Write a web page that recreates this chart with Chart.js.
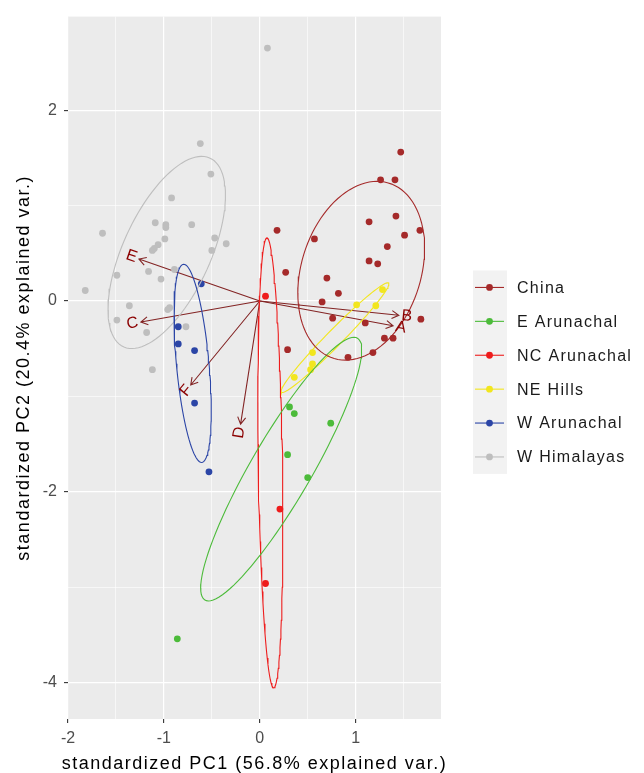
<!DOCTYPE html>
<html>
<head>
<meta charset="utf-8">
<script src="https://cdn.jsdelivr.net/npm/chart.js@4/dist/chart.umd.min.js"></script>
<style>
  body { margin: 0; background: #fff; }
  #wrap { width: 644px; height: 773px; }
</style>
</head>
<body>
<div id="wrap"><canvas id="myChart"></canvas></div>
<script>
// groups and colours
const groups = ['China', 'E Arunachal', 'NC Arunachal', 'NE Hills', 'W Arunachal', 'W Himalayas'];
const groupColors = ['#A52A2A', '#4CBB3A', '#EE1C1C', '#F2E61E', '#2B45A6', '#BEBEBE'];

// PC scores
const chinaPC1 = [1.47, 1.26, 1.41, 1.42, 1.14, 1.51, 1.67, 0.18, 0.57, 1.33, 1.14, 1.23, 0.27, 0.70, 0.82, 0.65, 0.76, 1.10, 1.68, 1.30, 1.39, 0.29, 0.92, 1.18];
const chinaPC2 = [1.56, 1.27, 1.27, 0.89, 0.83, 0.69, 0.74, 0.74, 0.65, 0.57, 0.42, 0.39, 0.30, 0.24, 0.08, -0.01, -0.18, -0.23, -0.19, -0.39, -0.39, -0.51, -0.59, -0.54];
const eArunPC1 = [0.31, 0.36, 0.74, 0.29, 0.50, -0.86];
const eArunPC2 = [-1.11, -1.18, -1.28, -1.61, -1.85, -3.54];
const ncArunPC1 = [0.06, 0.21, 0.06];
const ncArunPC2 = [0.05, -2.18, -2.96];
const neHillsPC1 = [1.28, 1.01, 1.21, 0.55, 0.55, 0.53, 0.36];
const neHillsPC2 = [0.12, -0.04, -0.05, -0.54, -0.66, -0.72, -0.80];
const wArunPC1 = [-0.61, -0.85, -0.85, -0.68, -0.68, -0.53];
const wArunPC2 = [0.18, -0.27, -0.45, -0.52, -1.07, -1.79];
const wHimPC1 = [0.08, -0.62, -0.51, -0.92, -1.09, -0.98, -0.98, -0.71, -1.64, -0.99, -0.47, -0.35, -1.06, -1.10, -1.12, -0.50, -1.49, -1.16, -1.03, -0.89, -1.82, -1.36, -0.94, -0.96, -1.49, -1.18, -0.77, -1.12];
const wHimPC2 = [2.65, 1.65, 1.33, 1.08, 0.82, 0.80, 0.77, 0.80, 0.71, 0.65, 0.66, 0.60, 0.59, 0.55, 0.53, 0.53, 0.27, 0.31, 0.23, 0.33, 0.11, -0.05, -0.07, -0.09, -0.20, -0.33, -0.27, -0.72];

// variable loadings (arrows)
const varNames = ['A', 'B', 'C', 'D', 'E', 'F'];
const varPC1 = [1.39, 1.45, -1.24, -0.20, -1.26, -0.72];
const varPC2 = [-0.26, -0.15, -0.22, -1.29, 0.44, -0.88];

const xTicks = [-2, -1, 0, 1];
const yTicks = [-4, -2, 0, 2];

const groupPC1 = [chinaPC1, eArunPC1, ncArunPC1, neHillsPC1, wArunPC1, wHimPC1];
const groupPC2 = [chinaPC2, eArunPC2, ncArunPC2, neHillsPC2, wArunPC2, wHimPC2];

const FONT = "'Liberation Sans', Arial, sans-serif";

// normal-probability ellipse as in ggbiplot (68%)
function ellipse(xs, ys) {
    const n = xs.length;
    const mx = xs.reduce((a, b) => a + b, 0) / n;
    const my = ys.reduce((a, b) => a + b, 0) / n;
    let sxx = 0, syy = 0, sxy = 0;
    for (let i = 0; i < n; i++) {
        const dx = xs[i] - mx, dy = ys[i] - my;
        sxx += dx * dx; syy += dy * dy; sxy += dx * dy;
    }
    sxx /= n - 1; syy /= n - 1; sxy /= n - 1;
    const r11 = Math.sqrt(sxx), r12 = sxy / r11;
    const r22 = Math.sqrt(Math.max(syy - r12 * r12, 0));
    const ed = Math.sqrt(-2 * Math.log(1 - 0.68));
    const pts = [];
    for (let k = 0; k <= 100; k++) {
        const t = -Math.PI + 2 * Math.PI * k / 100;
        const c = Math.cos(t), s = Math.sin(t);
        pts.push({x: mx + ed * c * r11, y: my + ed * (c * r12 + s * r22)});
    }
    return pts;
}

const datasets = [];
groups.forEach((g, i) => {
    datasets.push({
        label: g + ' ellipse',
        data: ellipse(groupPC1[i], groupPC2[i]),
        showLine: true,
        borderColor: groupColors[i],
        borderWidth: 1.1,
        pointRadius: 0,
        fill: false,
        order: 0
    });
});
groups.forEach((g, i) => {
    datasets.push({
        label: g,
        data: groupPC1[i].map((x, j) => ({x: x, y: groupPC2[i][j]})),
        backgroundColor: groupColors[i],
        borderWidth: 0,
        pointRadius: 3.4,
        order: 1
    });
});

const isOn = (v, list) => list.some(t => Math.abs(t - v) < 1e-6);

const biplotPlugin = {
    id: 'biplot',
    beforeDraw(chart) {
        const {ctx, chartArea: a} = chart;
        ctx.save();
        ctx.fillStyle = '#fff';
        ctx.fillRect(0, 0, chart.width, chart.height);
        ctx.fillStyle = '#EBEBEB';
        ctx.fillRect(a.left, a.top, a.right - a.left, a.bottom - a.top);
        ctx.restore();
    },
    beforeDatasetsDraw(chart) {
        const {ctx, chartArea: a, scales: {x, y}} = chart;
        ctx.save();
        ctx.beginPath();
        ctx.rect(a.left, a.top, a.right - a.left, a.bottom - a.top);
        ctx.clip();
        ctx.strokeStyle = '#832424';
        ctx.lineWidth = 1.1;
        const ox = x.getPixelForValue(0), oy = y.getPixelForValue(0);
        varNames.forEach((v, i) => {
            const tx = x.getPixelForValue(varPC1[i]), ty = y.getPixelForValue(varPC2[i]);
            const ang = Math.atan2(ty - oy, tx - ox);
            ctx.beginPath();
            ctx.moveTo(ox, oy);
            ctx.lineTo(tx, ty);
            ctx.moveTo(tx - 8 * Math.cos(ang - Math.PI / 6), ty - 8 * Math.sin(ang - Math.PI / 6));
            ctx.lineTo(tx, ty);
            ctx.lineTo(tx - 8 * Math.cos(ang + Math.PI / 6), ty - 8 * Math.sin(ang + Math.PI / 6));
            ctx.stroke();
        });
        ctx.restore();
    },
    afterDatasetsDraw(chart) {
        const {ctx, scales: {x, y}} = chart;
        ctx.save();
        ctx.font = '16px ' + FONT;
        ctx.fillStyle = '#8B0000';
        ctx.textBaseline = 'middle';
        ctx.textAlign = 'left';
        varNames.forEach((v, i) => {
            const tx = x.getPixelForValue(varPC1[i]), ty = y.getPixelForValue(varPC2[i]);
            const w = ctx.measureText(v).width;
            const hjust = 0.5 * (1 - 1.5 * Math.sign(varPC1[i]));
            ctx.save();
            ctx.translate(tx, ty);
            ctx.rotate(-Math.atan(varPC2[i] / varPC1[i]));
            ctx.fillText(v, -hjust * w, 0);
            ctx.restore();
        });
        ctx.restore();
    },
    afterDraw(chart) {
        const {ctx, chartArea: a} = chart;
        ctx.save();
        // axis titles
        ctx.fillStyle = '#000';
        ctx.font = '18px ' + FONT;
        ctx.letterSpacing = '1.5px';
        ctx.textAlign = 'center';
        ctx.textBaseline = 'alphabetic';
        ctx.fillText('standardized PC1 (56.8% explained var.)', (a.left + a.right) / 2, 769);
        ctx.save();
        ctx.translate(29, (a.top + a.bottom) / 2);
        ctx.rotate(-Math.PI / 2);
        ctx.fillText('standardized PC2 (20.4% explained var.)', 0, 0);
        ctx.restore();

        // legend
        const top = 270.5, step = 33.9;
        ctx.fillStyle = '#F2F2F2';
        ctx.fillRect(473, top, 34, step * groups.length);
        ctx.font = '16px ' + FONT;
        ctx.letterSpacing = '1.3px';
        ctx.textAlign = 'left';
        ctx.textBaseline = 'middle';
        groups.forEach((g, i) => {
            const cy = top + step * (i + 0.5);
            ctx.strokeStyle = groupColors[i];
            ctx.lineWidth = 1.1;
            ctx.beginPath();
            ctx.moveTo(475, cy);
            ctx.lineTo(504, cy);
            ctx.stroke();
            ctx.fillStyle = groupColors[i];
            ctx.beginPath();
            ctx.arc(489.5, cy, 3.4, 0, 2 * Math.PI);
            ctx.fill();
            ctx.fillStyle = '#1A1A1A';
            ctx.fillText(g, 517, cy + 1);
        });
        ctx.restore();
    }
};

document.addEventListener('DOMContentLoaded', function () {
    const ctx = document.getElementById('myChart');
    new Chart(ctx, {
        type: 'scatter',
        data: {datasets: datasets},
        plugins: [biplotPlugin],
        options: {
            responsive: true,
            maintainAspectRatio: false,
            animation: false,
            layout: {padding: {left: 0, top: 12, right: 203, bottom: 0}},
            plugins: {
                legend: {display: false},
                tooltip: {enabled: false}
            },
            scales: {
                x: {
                    type: 'linear',
                    min: -2,
                    max: 1.89,
                    afterFit(scale) { scale.height = 54; },
                    border: {display: false},
                    grid: {
                        color: '#FFFFFF',
                        lineWidth: c => isOn(c.tick.value, xTicks) ? 1.2 : 0.6,
                        tickLength: 4,
                        tickWidth: 1.1,
                        tickColor: c => isOn(c.tick.value, xTicks) ? '#333333' : 'rgba(0,0,0,0)'
                    },
                    ticks: {
                        stepSize: 0.5,
                        includeBounds: false,
                        autoSkip: false,
                        maxRotation: 0,
                        padding: 6,
                        color: '#4D4D4D',
                        font: {family: FONT, size: 16},
                        callback: v => isOn(v, xTicks) ? String(Math.round(v)) : ''
                    }
                },
                y: {
                    type: 'linear',
                    min: -4.38,
                    max: 2.98,
                    afterFit(scale) { scale.width = 68; },
                    border: {display: false},
                    grid: {
                        color: '#FFFFFF',
                        lineWidth: c => isOn(c.tick.value, yTicks) ? 1.2 : 0.6,
                        tickLength: 4,
                        tickWidth: 1.1,
                        tickColor: c => isOn(c.tick.value, yTicks) ? '#333333' : 'rgba(0,0,0,0)'
                    },
                    ticks: {
                        stepSize: 1,
                        includeBounds: false,
                        autoSkip: false,
                        padding: 7,
                        color: '#4D4D4D',
                        font: {family: FONT, size: 16},
                        callback: v => isOn(v, yTicks) ? String(Math.round(v)) : ''
                    }
                }
            }
        }
    });
});
</script>
</body>
</html>
